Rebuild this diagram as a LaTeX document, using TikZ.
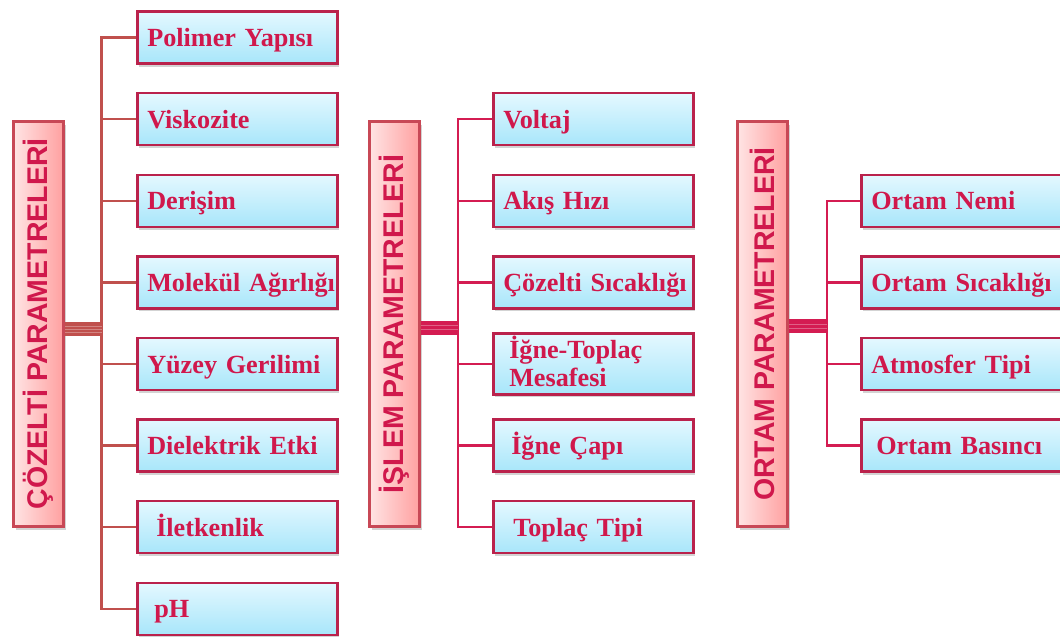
\documentclass[tikz,border=0pt]{standalone}
\usepackage{fontspec}
\setmainfont{Liberation Serif}[WordSpace=0.6]
\newfontfamily\headfont{Liberation Sans}
\usepackage{tikz}
\usepackage{xcolor}
\usetikzlibrary{positioning, shadows}
\hyphenpenalty=10000\relax

\definecolor{textred}{RGB}{208,24,76}
\definecolor{cozline}{RGB}{192,80,77}
\definecolor{islline}{RGB}{212,28,82}
\definecolor{boxedge}{RGB}{186,34,76}
\definecolor{headedge}{RGB}{200,72,86}
\definecolor{skytop}{RGB}{228,248,255}
\definecolor{skybot}{RGB}{168,230,250}
\definecolor{pinklt}{RGB}{255,228,228}
\definecolor{pinkdk}{RGB}{255,160,160}

\begin{document}
\begin{tikzpicture}[x=1pt, y=-1pt,
    head/.style={draw=headedge, line width=2.5pt, rotate=90, left color=pinklt, right color=pinkdk,
        minimum width=405pt, minimum height=50pt, inner sep=0pt, text=textred,
        font=\headfont\bfseries\fontsize{28.5}{30}\selectfont,
        drop shadow={shadow xshift=2pt, shadow yshift=-3pt, opacity=0.35}},
    param/.style={draw=boxedge, line width=2.5pt, anchor=west, top color=skytop, bottom color=skybot,
        minimum width=200pt, minimum height=52pt, text width=180pt, inner xsep=10pt, align=left,
        text height=21pt, text depth=3pt,
        text=textred, font=\bfseries\fontsize{26.2}{28}\selectfont,
        drop shadow={shadow xshift=2pt, shadow yshift=-3pt, opacity=0.35}},
    link/.style={line width=2.5pt},
    hub/.style={line width=14pt},
    stripe/.style={line width=0.8pt, white, opacity=0.3}]
    \useasboundingbox (0,0) rectangle (1060,637);

    % cozelti parametreleri
    \node[head] (coz) at (38.5, 324) {ÇÖZELTİ PARAMETRELERİ};
    \node[param] (c1) at (136, 37.5) {Polimer~Yapısı};
    \node[param] (c2) at (136, 119.2) {Viskozite};
    \node[param] (c3) at (136, 200.8) {Derişim};
    \node[param] (c4) at (136, 282.4) {Molekül~Ağırlığı};
    \node[param] (c5) at (136, 364) {Yüzey~Gerilimi};
    \node[param] (c6) at (136, 445.6) {Dielektrik~Etki};
    \node[param] (c7) at (136, 527.2) {\hspace*{9pt}İletkenlik};
    \node[param] (c8) at (136, 608.8) {\hspace*{7pt}pH};
    \coordinate (cozhub) at (101.5, 329);

    % islem parametreleri
    \node[head] (isl) at (394.5, 324) {İŞLEM PARAMETRELERİ};
    \node[param] (i1) at (492, 119.2) {Voltaj};
    \node[param] (i2) at (492, 200.8) {Akış~Hızı};
    \node[param] (i3) at (492, 282.4) {Çözelti~Sıcaklığı};
    \node[param, text depth=33pt] (i4) at (492, 364) {\hspace*{6pt}İğne-Toplaç\\\hspace*{6pt}Mesafesi};
    \node[param] (i5) at (492, 445.6) {\hspace*{8pt}İğne~Çapı};
    \node[param] (i6) at (492, 527.2) {\hspace*{10pt}Toplaç~Tipi};
    \coordinate (islhub) at (458, 327.5);

    % ortam parametreleri
    \node[head] (ort) at (762.5, 324) {ORTAM PARAMETRELERİ};
    \node[param] (o1) at (860, 200.8) {Ortam~Nemi};
    \node[param] (o2) at (860, 282.4) {Ortam~Sıcaklığı};
    \node[param] (o3) at (860, 364) {Atmosfer~Tipi};
    \node[param] (o4) at (860, 445.6) {\hspace*{5pt}Ortam~Basıncı};
    \coordinate (orthub) at (827, 326);

    \draw[link, cozline] (c1.west) -| (cozhub) |- (c8.west);
    \foreach \n in {2,...,7}
        \draw[link, cozline] (c\n.west) -- (c\n.west -| cozhub);
    \draw[hub, cozline] (coz.south |- cozhub) -- (cozhub);
    \foreach \d in {-3,0,3}
        \draw[stripe] ([yshift=\d pt]coz.south |- cozhub) -- ([yshift=\d pt]cozhub);

    \draw[link, islline] (i1.west) -| (islhub) |- (i6.west);
    \foreach \n in {2,...,5}
        \draw[link, islline] (i\n.west) -- (i\n.west -| islhub);
    \draw[hub, islline] (isl.south |- islhub) -- (islhub);
    \foreach \d in {-2,2}
        \draw[stripe] ([yshift=\d pt]isl.south |- islhub) -- ([yshift=\d pt]islhub);

    \draw[link, islline] (o1.west) -| (orthub) |- (o4.west);
    \foreach \n in {2,3}
        \draw[link, islline] (o\n.west) -- (o\n.west -| orthub);
    \draw[hub, islline] (ort.south |- orthub) -- (orthub);
    \foreach \d in {-2,2}
        \draw[stripe] ([yshift=\d pt]ort.south |- orthub) -- ([yshift=\d pt]orthub);
\end{tikzpicture}
\end{document}
